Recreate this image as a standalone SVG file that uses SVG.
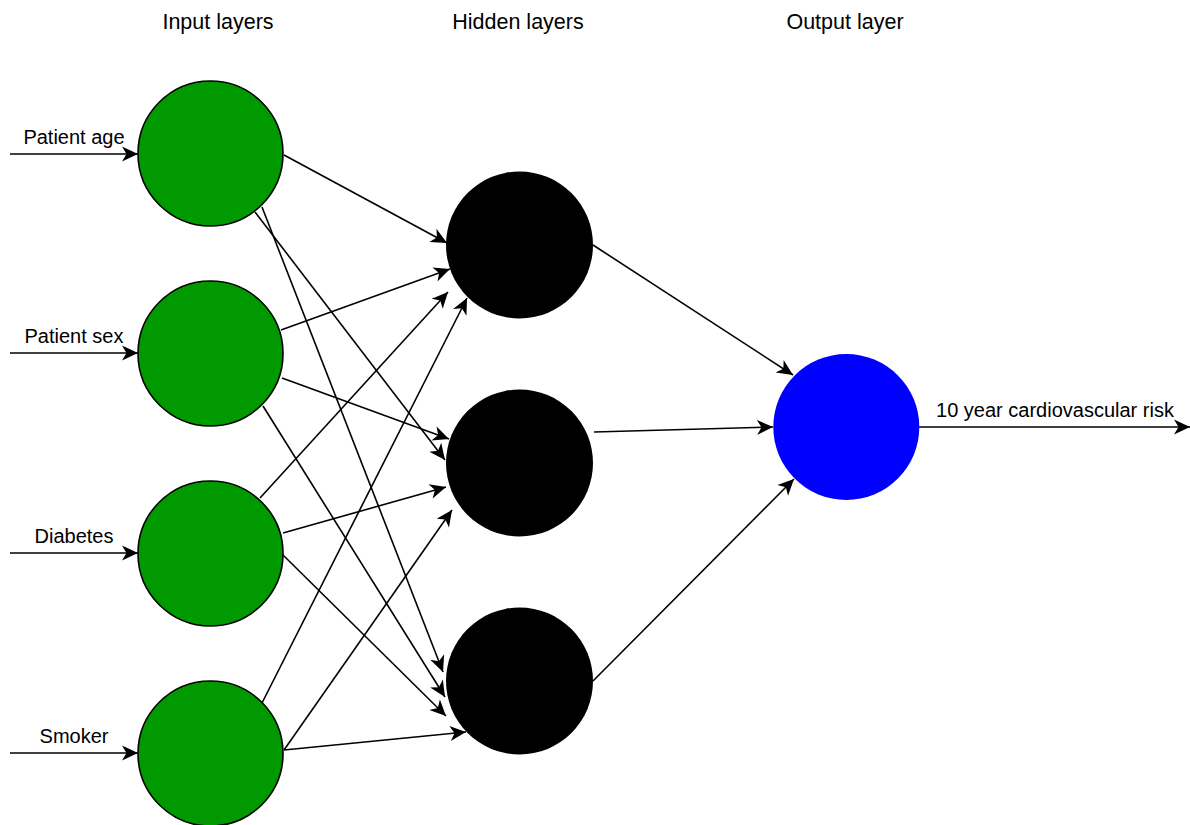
<svg xmlns="http://www.w3.org/2000/svg" width="1190" height="825" viewBox="0 0 1190 825">
  <style>
    .title { font-family: "Liberation Sans", Arial, sans-serif; font-size: 21.5px; fill: #000; text-anchor: middle; }
    .label { font-family: "Liberation Sans", Arial, sans-serif; font-size: 20px; fill: #000; text-anchor: middle; }
    .input { fill: #009900; stroke: #000; stroke-width: 1.6; }
    .hidden { fill: #000; }
    .output { fill: #0000ff; }
    .edge { stroke: #000; stroke-width: 1.6; fill: none; marker-end: url(#arrow); }
  </style>
  <defs>
    <marker id="arrow" markerUnits="userSpaceOnUse" viewBox="-17 -8 18 16" markerWidth="18" markerHeight="16" refX="0" refY="0" orient="auto">
      <path d="M0,0 L-16,-7.5 L-11.5,0 L-16,7.5 Z" fill="#000"/>
    </marker>
  </defs>
  <rect width="1190" height="825" fill="#fff"/>

  <!-- column headings -->
  <text class="title" x="218" y="29">Input layers</text>
  <text class="title" x="518" y="29">Hidden layers</text>
  <text class="title" x="845" y="29">Output layer</text>

  <!-- connectors -->
  <g id="connectors">
    <!-- external inputs -->
    <line class="edge" x1="10" y1="154" x2="138" y2="154"/>
    <line class="edge" x1="10" y1="353" x2="138" y2="353"/>
    <line class="edge" x1="10" y1="553" x2="138" y2="553"/>
    <line class="edge" x1="10" y1="753" x2="138" y2="753"/>
    <!-- input layer to hidden layer -->
    <line class="edge" x1="284" y1="155" x2="447" y2="243"/>
    <line class="edge" x1="255" y1="212" x2="445" y2="460"/>
    <line class="edge" x1="262" y1="207" x2="443" y2="672"/>
    <line class="edge" x1="281" y1="330" x2="450" y2="269"/>
    <line class="edge" x1="282" y1="378" x2="449" y2="439"/>
    <line class="edge" x1="263" y1="406" x2="445" y2="697"/>
    <line class="edge" x1="260" y1="498" x2="448" y2="292"/>
    <line class="edge" x1="283" y1="533" x2="446" y2="487"/>
    <line class="edge" x1="283" y1="555" x2="446" y2="716"/>
    <line class="edge" x1="262" y1="703" x2="467" y2="298"/>
    <line class="edge" x1="284" y1="750" x2="452" y2="510"/>
    <line class="edge" x1="284" y1="750" x2="466" y2="732"/>
    <!-- hidden layer to output -->
    <line class="edge" x1="593" y1="245" x2="793" y2="375"/>
    <line class="edge" x1="594" y1="432" x2="773" y2="427"/>
    <line class="edge" x1="593" y1="681" x2="794" y2="479"/>
    <!-- result -->
    <line class="edge" x1="919" y1="427" x2="1190" y2="427"/>
  </g>

  <!-- input nodes -->
  <g id="input-age">
    <circle class="input" cx="210.5" cy="153.5" r="72.5"/>
    <text class="label" x="74" y="144">Patient age</text>
  </g>
  <g id="input-sex">
    <circle class="input" cx="210.5" cy="353.5" r="72.5"/>
    <text class="label" x="74" y="343">Patient sex</text>
  </g>
  <g id="input-diabetes">
    <circle class="input" cx="210.5" cy="553.5" r="72.5"/>
    <text class="label" x="74" y="543">Diabetes</text>
  </g>
  <g id="input-smoker">
    <circle class="input" cx="210.5" cy="753.5" r="72.5"/>
    <text class="label" x="74" y="743">Smoker</text>
  </g>

  <!-- hidden nodes -->
  <g id="hidden-1"><circle class="hidden" cx="519.5" cy="245" r="73.5"/></g>
  <g id="hidden-2"><circle class="hidden" cx="519.5" cy="463" r="73.5"/></g>
  <g id="hidden-3"><circle class="hidden" cx="519.5" cy="681" r="73.5"/></g>

  <!-- output node -->
  <g id="output">
    <circle class="output" cx="846.3" cy="427" r="73"/>
    <text class="label" x="1055" y="416.5">10 year cardiovascular risk</text>
  </g>
</svg>
